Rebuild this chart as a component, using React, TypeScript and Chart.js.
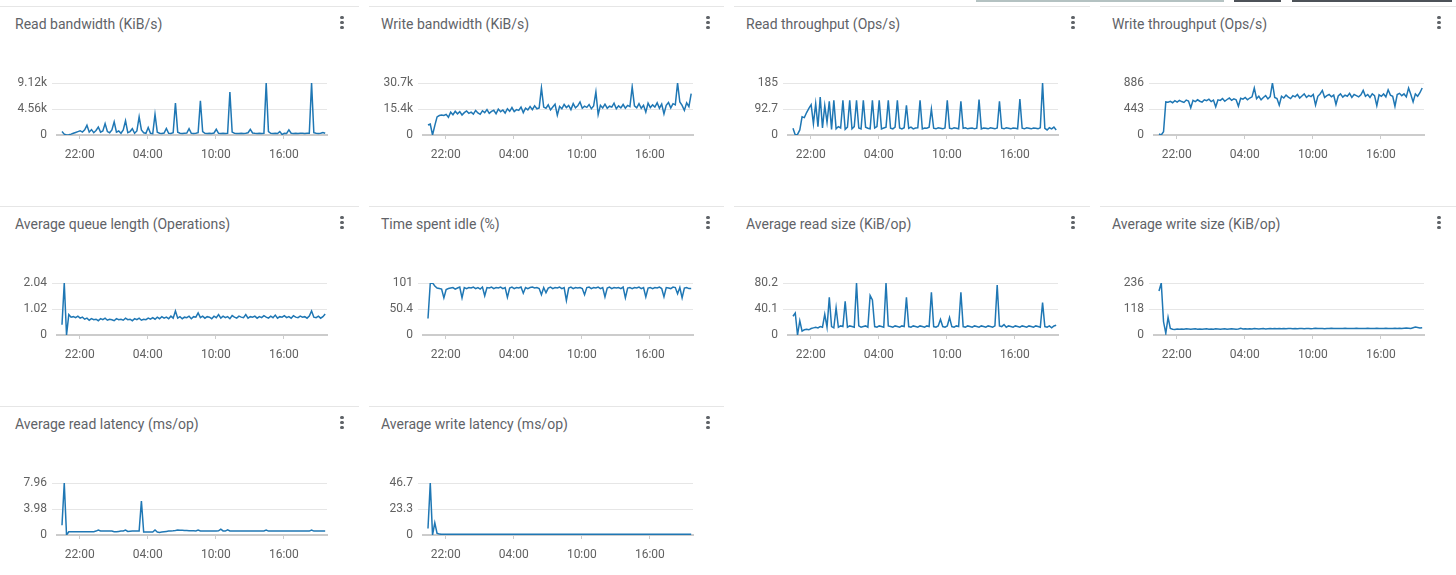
import React, { useEffect, useRef } from 'react';
import { Chart, registerables } from 'chart.js';

Chart.register(...registerables);

// ---- time axis (hours since 20:00 on day 1) ----
const X_MIN = 0;
const X_MAX = 23.8;
const X_TICK_HOURS = [2, 8, 14, 20];
const X_TICK_LABELS = ['22:00', '04:00', '10:00', '16:00'];
const SAMPLE_START = 0.44; // first sample (~20:26)
const SAMPLE_STEP = 0.2; // 12 minutes between samples

// ---- panel titles ----
const TITLES = [
  'Read bandwidth (KiB/s)',
  'Write bandwidth (KiB/s)',
  'Read throughput (Ops/s)',
  'Write throughput (Ops/s)',
  'Average queue length (Operations)',
  'Time spent idle (%)',
  'Average read size (KiB/op)',
  'Average write size (KiB/op)',
  'Average read latency (ms/op)',
  'Average write latency (ms/op)',
];

// ---- y axis maxima and tick labels ----
const Y_MAX = [9120, 30700, 185.4, 886, 2.04, 100.8, 80.2, 236, 7.96, 46.7];
const Y_LABELS = [
  ['0', '4.56k', '9.12k'],
  ['0', '15.4k', '30.7k'],
  ['0', '92.7', '185'],
  ['0', '443', '886'],
  ['0', '1.02', '2.04'],
  ['0', '50.4', '101'],
  ['0', '40.1', '80.2'],
  ['0', '118', '236'],
  ['0', '3.98', '7.96'],
  ['0', '23.3', '46.7'],
];

// ---- series values (one per 12-minute sample) ----
const readBandwidth = [
  600, 150, 0, 60, 150, 300, 450, 600, 750, 500,
  900, 1700, 500, 950, 400, 800, 1400, 500, 700, 2000,
  600, 400, 900, 2300, 500, 700, 300, 900, 2500, 400,
  600, 1100, 300, 700, 3200, 900, 400, 300, 1300, 300,
  250, 3600, 500, 300, 250, 350, 1150, 300, 250, 400,
  5600, 500, 300, 250, 300, 350, 1100, 300, 250, 300,
  400, 5980, 600, 300, 250, 300, 280, 350, 1000, 300,
  250, 300, 280, 300, 7550, 500, 300, 280, 250, 300,
  270, 300, 400, 1000, 350, 300, 280, 300, 250, 300,
  9120, 600, 300, 280, 300, 250, 600, 100, 300, 280,
  900, 300, 280, 300, 270, 300, 320, 280, 300, 300,
  9120, 400, 300, 250, 300, 450, 300,
];

const writeBandwidth = [
  5900, 6500, 0, 5500, 10700, 11500, 11800, 11500, 12200, 10500,
  13500, 12000, 14000, 12500, 13800, 11800, 13200, 14200, 12800, 13500,
  12300, 14500, 13000, 12200, 14300, 13200, 15000, 12800, 13900, 14600,
  12500, 15300, 13800, 14800, 13000, 15500, 14000, 16200, 13800, 15000,
  14500, 16500, 13200, 15800, 14800, 16800, 15000, 17200, 15500, 16000,
  27800, 16500, 15800, 17800, 14800, 16500, 18200, 11700, 16800, 15500,
  18000, 16200, 17500, 15000, 18500, 16000, 17200, 19500, 15800, 17000,
  16300, 18000, 15500, 17200, 25400, 12000, 17500, 16000, 18200, 15800,
  17000, 16500, 18800, 15500, 17200, 16000, 18000, 15800, 17500, 16800,
  28400, 17200, 16000, 18500, 15800, 17500, 13500, 18800, 16200, 17800,
  16500, 19000, 15800, 18200, 12500, 17500, 19200, 16000, 18500, 17800,
  30700, 19500, 17500, 14500, 19000, 16800, 24400,
];

const readThroughput = [
  24, 0, 2, 18, 65, 62, 80, 95, 108, 40,
  112, 30, 135, 25, 105, 45, 120, 20, 124, 22,
  30, 25, 124, 20, 28, 124, 22, 30, 124, 25,
  22, 124, 28, 24, 22, 124, 25, 30, 124, 22,
  25, 28, 124, 24, 22, 28, 124, 25, 22, 26,
  106, 24, 28, 22, 25, 26, 124, 22, 25, 24,
  28, 92, 24, 22, 26, 24, 22, 25, 124, 24,
  22, 26, 24, 22, 120, 24, 26, 22, 24, 25,
  22, 24, 126, 22, 25, 24, 22, 26, 24, 22,
  25, 120, 24, 22, 26, 24, 22, 25, 24, 22,
  128, 24, 22, 26, 24, 22, 25, 24, 22, 26,
  185, 24, 18, 26, 22, 28, 18,
];

const writeThroughput = [
  17, 0, 56, 564, 560, 575, 550, 585, 560, 590,
  570, 555, 595, 580, 463, 590, 570, 600, 575, 560,
  600, 585, 610, 570, 595, 480, 600, 590, 620, 575,
  605, 630, 590, 615, 600, 490, 625, 610, 640, 600,
  630, 650, 800, 620, 660, 600, 640, 670, 615, 655,
  886, 640, 620, 508, 660, 630, 680, 645, 620, 670,
  650, 690, 630, 665, 700, 640, 675, 655, 690, 510,
  660, 700, 760, 640, 670, 690, 650, 680, 520, 665,
  700, 645, 680, 660, 710, 640, 690, 670, 650, 685,
  760, 660, 690, 640, 700, 670, 500, 685, 660, 700,
  650, 770, 680, 660, 490, 690, 710, 670, 700, 650,
  800, 690, 564, 700, 660, 720, 800,
];

const queueLength = [
  0.40, 2.04, 0.00, 0.80, 0.70, 0.72, 0.68, 0.74, 0.66, 0.70,
  0.62, 0.66, 0.58, 0.64, 0.60, 0.62, 0.56, 0.64, 0.60, 0.66,
  0.58, 0.62, 0.60, 0.56, 0.64, 0.60, 0.62, 0.58, 0.66, 0.60,
  0.62, 0.56, 0.64, 0.60, 0.66, 0.58, 0.62, 0.60, 0.66, 0.62,
  0.68, 0.62, 0.70, 0.64, 0.72, 0.66, 0.70, 0.64, 0.74, 0.66,
  0.94, 0.66, 0.72, 0.64, 0.70, 0.68, 0.74, 0.64, 0.72, 0.70,
  0.87, 0.68, 0.74, 0.66, 0.72, 0.70, 0.64, 0.74, 0.68, 0.80,
  0.66, 0.74, 0.68, 0.72, 0.64, 0.76, 0.70, 0.66, 0.74, 0.70,
  0.68, 0.80, 0.66, 0.72, 0.70, 0.74, 0.66, 0.72, 0.68, 0.76,
  0.70, 0.66, 0.74, 0.68, 0.78, 0.66, 0.72, 0.70, 0.76, 0.68,
  0.72, 0.66, 0.76, 0.70, 0.68, 0.74, 0.70, 0.72, 0.66, 0.74,
  0.94, 0.70, 0.68, 0.74, 0.66, 0.72, 0.82,
];

const idlePercent = [
  32, 100, 101, 95, 91, 90, 89, 72, 88, 90,
  91, 92, 89, 91, 93, 72, 92, 90, 92, 91,
  93, 90, 92, 89, 93, 76, 92, 91, 93, 90,
  92, 91, 93, 90, 92, 73, 91, 93, 90, 92,
  91, 93, 81, 92, 90, 92, 93, 91, 92, 90,
  78, 92, 82, 91, 93, 90, 92, 91, 93, 90,
  92, 67, 91, 93, 90, 92, 91, 92, 90, 78,
  92, 93, 90, 92, 91, 93, 90, 92, 74, 91,
  93, 90, 92, 91, 92, 90, 93, 72, 91, 92,
  90, 92, 91, 93, 90, 92, 74, 91, 92, 90,
  92, 91, 93, 90, 74, 92, 91, 90, 93, 92,
  80, 92, 72, 91, 92, 90, 90,
];

const readSize = [
  29, 34, 0, 22, 6, 8, 9, 8, 10, 11,
  12, 11, 13, 12, 32, 12, 58, 13, 11, 42,
  12, 14, 13, 52, 12, 14, 13, 12, 80, 14,
  12, 13, 14, 12, 61, 54, 13, 12, 14, 13,
  12, 80, 14, 13, 12, 14, 13, 12, 14, 13,
  58, 13, 12, 14, 13, 12, 14, 13, 12, 14,
  13, 66, 13, 12, 14, 24, 13, 12, 14, 27,
  13, 12, 14, 13, 66, 13, 12, 14, 13, 12,
  14, 13, 12, 14, 13, 12, 14, 13, 12, 14,
  77, 14, 13, 16, 12, 14, 13, 12, 14, 13,
  12, 14, 13, 12, 14, 13, 12, 14, 13, 12,
  50, 13, 12, 14, 11, 14, 15,
];

const writeSize = [
  200, 236, 60, 8, 80, 30, 26, 25, 27, 26,
  27, 26, 28, 27, 26, 27, 28, 26, 27, 26,
  27, 28, 26, 27, 26, 28, 27, 26, 27, 28,
  26, 27, 28, 27, 26, 27, 30, 27, 28, 27,
  28, 27, 29, 28, 27, 28, 29, 27, 28, 29,
  28, 29, 28, 30, 28, 29, 28, 29, 30, 28,
  29, 28, 30, 29, 28, 29, 30, 28, 29, 31,
  29, 30, 29, 28, 30, 29, 31, 30, 29, 30,
  29, 30, 31, 29, 30, 29, 30, 31, 29, 30,
  30, 29, 31, 30, 29, 30, 31, 30, 29, 30,
  31, 30, 29, 30, 31, 30, 31, 30, 31, 32,
  31, 30, 33, 36, 34, 32, 33,
];

const readLatency = [
  1.5, 7.96, 0, 0.5, 0.5, 0.5, 0.5, 0.5, 0.5, 0.5,
  0.5, 0.5, 0.5, 0.5, 0.5, 0.6, 0.76, 0.62, 0.62, 0.6,
  0.62, 0.6, 0.62, 0.5, 0.5, 0.55, 0.6, 0.62, 0.76, 0.55,
  0.58, 0.6, 0.6, 0.62, 0.6, 5.2, 0.45, 0.45, 0.45, 0.45,
  0.45, 0.76, 0.45, 0.4, 0.45, 0.5, 0.55, 0.6, 0.62, 0.65,
  0.7, 0.76, 0.74, 0.72, 0.7, 0.68, 0.66, 0.65, 0.64, 0.62,
  0.76, 0.62, 0.6, 0.6, 0.62, 0.6, 0.62, 0.6, 0.62, 0.64,
  0.9, 0.62, 0.6, 0.8, 0.62, 0.62, 0.6, 0.62, 0.6, 0.62,
  0.6, 0.62, 0.6, 0.62, 0.6, 0.6, 0.62, 0.6, 0.6, 0.62,
  0.76, 0.6, 0.6, 0.62, 0.6, 0.6, 0.62, 0.6, 0.6, 0.6,
  0.6, 0.62, 0.6, 0.6, 0.62, 0.6, 0.6, 0.62, 0.6, 0.6,
  0.76, 0.6, 0.6, 0.62, 0.6, 0.6, 0.6,
];

const writeLatency = [
  5.9, 46.7, 0, 11, 1.5, 0.8, 0.6, 0.6, 0.6, 0.6,
  0.6, 0.6, 0.6, 0.6, 0.6, 0.6, 0.6, 0.6, 0.6, 0.6,
  0.6, 0.6, 0.6, 0.6, 0.6, 0.6, 0.6, 0.6, 0.6, 0.6,
  0.6, 0.6, 0.6, 0.6, 0.6, 0.6, 0.6, 0.6, 0.6, 0.6,
  0.6, 0.6, 0.6, 0.6, 0.6, 0.6, 0.6, 0.6, 0.6, 0.6,
  0.6, 0.6, 0.6, 0.6, 0.6, 0.6, 0.6, 0.6, 0.6, 0.6,
  0.6, 0.6, 0.6, 0.6, 0.6, 0.6, 0.6, 0.6, 0.6, 0.6,
  0.6, 0.6, 0.6, 0.6, 0.6, 0.6, 0.6, 0.6, 0.6, 0.6,
  0.6, 0.6, 0.6, 0.6, 0.6, 0.6, 0.6, 0.6, 0.6, 0.6,
  0.6, 0.6, 0.6, 0.6, 0.6, 0.6, 0.6, 0.6, 0.6, 0.6,
  0.6, 0.6, 0.6, 0.6, 0.6, 0.6, 0.6, 0.6, 0.6, 0.6,
  0.6, 0.6, 0.6, 0.6, 0.6, 0.6, 0.6,
];

const SERIES = [
  readBandwidth, writeBandwidth, readThroughput, writeThroughput,
  queueLength, idlePercent, readSize, writeSize,
  readLatency, writeLatency,
];

// ---- styling ----
const FONT = 'Roboto, "Noto Sans", sans-serif';
const LINE_COLOR = '#1f77b4';
const TEXT_COLOR = '#5f6368';
const TICK_COLOR = '#616161';
const GRID_COLOR = '#e6e6e6';
const BASE_COLOR = '#cccccc';
const COL_X = [0, 366, 731, 1097];
const ROW_Y = [0, 200, 400];
const PANEL_SPANS = [[0, 359], [369, 724], [734, 1090], [1100, 1456]];

function ChartPanel({ index }: { index: number }) {
  const ref = useRef<HTMLCanvasElement>(null);
  const col = index % 4;
  const row = Math.floor(index / 4);
  const cx = COL_X[col];
  const ry = ROW_Y[row];

  useEffect(() => {
    const values = SERIES[index];
    const yMax = Y_MAX[index];
    const yLabels = Y_LABELS[index];
    const chart = new Chart(ref.current as HTMLCanvasElement, {
      type: 'line',
      data: {
        datasets: [
          {
            data: values.map((v, i) => ({ x: SAMPLE_START + i * SAMPLE_STEP, y: v })),
            borderColor: LINE_COLOR,
            borderWidth: 1.5,
            pointRadius: 0,
            tension: 0,
            fill: false,
          },
        ],
      },
      options: {
        animation: false,
        responsive: false,
        devicePixelRatio: 1,
        events: [],
        layout: { padding: { top: 21, right: 13, left: 0, bottom: 0 } },
        plugins: { legend: { display: false }, tooltip: { enabled: false } },
        scales: {
          x: {
            type: 'linear',
            min: X_MIN,
            max: X_MAX,
            afterBuildTicks: (axis: any) => {
              axis.ticks = X_TICK_HOURS.map((v) => ({ value: v }));
            },
            afterFit: (axis: any) => {
              axis.height = 37;
            },
            ticks: {
              autoSkip: false,
              maxRotation: 0,
              padding: 9,
              color: TICK_COLOR,
              font: { family: FONT, size: 12 },
              callback: (_v: any, i: number) => X_TICK_LABELS[i],
            },
            grid: { drawOnChartArea: false, drawTicks: true, tickLength: 4, color: BASE_COLOR },
            border: { display: true, color: BASE_COLOR, width: 2 },
          },
          y: {
            min: 0,
            max: yMax,
            afterBuildTicks: (axis: any) => {
              axis.ticks = [0, yMax / 2, yMax].map((v) => ({ value: v }));
            },
            afterFit: (axis: any) => {
              axis.width = 57;
            },
            ticks: {
              padding: 5,
              color: TICK_COLOR,
              font: { family: FONT, size: 12 },
              callback: (_v: any, i: number) => yLabels[i],
            },
            grid: {
              drawTicks: true,
              tickLength: 5,
              color: (ctx: any) => (ctx.index === 0 ? 'rgba(0,0,0,0)' : GRID_COLOR),
            },
            border: { display: false },
          },
        },
      },
    } as any);
    return () => chart.destroy();
  }, [index]);

  const span = PANEL_SPANS[col];
  const dot = (top: number) => (
    <div
      style={{
        position: 'absolute',
        left: cx + 340,
        top: ry + top,
        width: 3.5,
        height: 3.5,
        borderRadius: 2,
        background: TEXT_COLOR,
      }}
    />
  );

  return (
    <>
      <div
        style={{
          position: 'absolute',
          left: span[0],
          top: ry + 6,
          width: span[1] - span[0],
          height: 1,
          background: '#e6e6e6',
        }}
      />
      <div
        style={{
          position: 'absolute',
          left: cx + 15,
          top: ry + 14,
          font: `14px ${FONT}`,
          lineHeight: '20px',
          color: TEXT_COLOR,
          whiteSpace: 'nowrap',
        }}
      >
        {TITLES[index]}
      </div>
      {dot(15.5)}
      {dot(20.5)}
      {dot(25.5)}
      <canvas
        ref={ref}
        width={340}
        height={110}
        style={{ position: 'absolute', left: cx, top: ry + 62, width: 340, height: 110 }}
      />
    </>
  );
}

export default function App() {
  return (
    <div
      style={{
        position: 'fixed',
        left: 0,
        top: 0,
        width: 1456,
        height: 575,
        background: '#ffffff',
        overflow: 'hidden',
      }}
    >
      <div style={{ position: 'absolute', left: 976, top: 0, width: 248, height: 2, background: '#b4c2c2' }} />
      <div style={{ position: 'absolute', left: 1234, top: 0, width: 47, height: 2, background: '#4d5258' }} />
      <div style={{ position: 'absolute', left: 1292, top: 0, width: 160, height: 2, background: '#4d5258' }} />
      {TITLES.map((_, i) => (
        <ChartPanel key={i} index={i} />
      ))}
    </div>
  );
}
